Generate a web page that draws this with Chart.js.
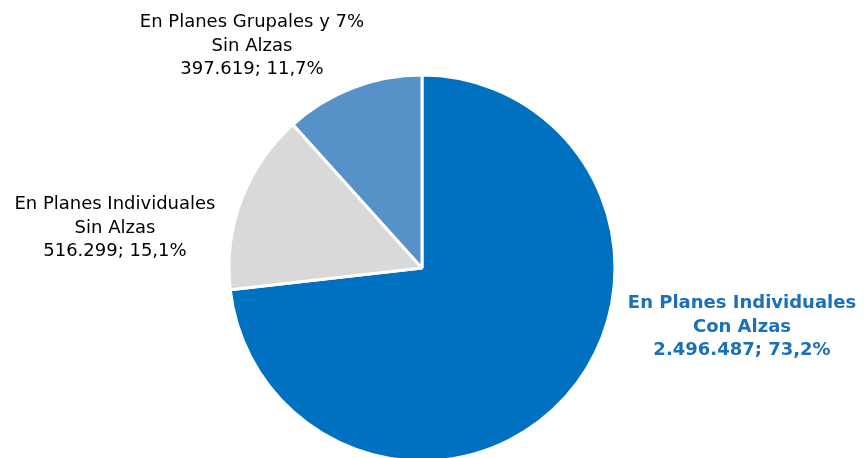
<!DOCTYPE html>
<html>
<head>
<meta charset="utf-8">
<script src="https://cdn.jsdelivr.net/npm/chart.js@4/dist/chart.umd.min.js"></script>
<style>
html,body{margin:0;padding:0;background:#fff;overflow:hidden;width:864px;height:458px;}
canvas{display:block;}
</style>
</head>
<body>
<canvas id="c" width="864" height="470"></canvas>
<script>
const categories = [
  ["En Planes Individuales", "Con Alzas"],
  ["En Planes Individuales", "Sin Alzas"],
  ["En Planes Grupales y 7%", "Sin Alzas"]
];
const values = [2496487, 516299, 397619];
const percentLabels = ["73,2%", "15,1%", "11,7%"];
const sliceColors = ["#0070C0", "#D9D9D9", "#5691C8"];

function fmtThousands(n){
  return String(n).replace(/\B(?=(\d{3})+(?!\d))/g, ".");
}

const labelPlugin = {
  id: 'outerLabels',
  afterDatasetsDraw(chart, args, opts){
    const ctx = chart.ctx;
    const meta = chart.getDatasetMeta(0);
    meta.data.forEach((arc, i) => {
      const r = arc.outerRadius;
      const pos = opts.positions[i];
      const x = arc.x + r * pos[0];
      const y = arc.y + r * pos[1];
      const lines = categories[i].concat([fmtThousands(values[i]) + "; " + percentLabels[i]]);
      ctx.save();
      ctx.font = (opts.bold[i] ? "bold " : "") + opts.fontSize + "px 'DejaVu Sans', sans-serif";
      ctx.fillStyle = opts.colors[i];
      ctx.textAlign = "center";
      ctx.textBaseline = "middle";
      const lh = opts.lineHeight;
      lines.forEach((t, k) => {
        ctx.fillText(t, x, y + (k - (lines.length - 1) / 2) * lh);
      });
      ctx.restore();
    });
  }
};

new Chart(document.getElementById('c'), {
  type: 'pie',
  data: {
    labels: categories.map(c => c.join(' ')),
    datasets: [{
      data: values,
      backgroundColor: sliceColors,
      borderColor: '#FFFFFF',
      borderWidth: 3,
      hoverBorderWidth: 3,
      hoverOffset: 0
    }]
  },
  options: {
    responsive: false,
    animation: false,
    devicePixelRatio: 1,
    layout: { padding: { top: 73.5, bottom: 7.5, left: 0, right: 20 } },
    plugins: {
      legend: { display: false },
      tooltip: { enabled: false },
      outerLabels: {
        positions: [[1.658, 0.306], [-1.591, -0.207], [-0.881, -1.150]],
        bold: [true, false, false],
        colors: ["#1A70BA", "#000000", "#000000"],
        fontSize: 18,
        lineHeight: 23.5
      }
    }
  },
  plugins: [labelPlugin]
});
</script>
</body>
</html>
